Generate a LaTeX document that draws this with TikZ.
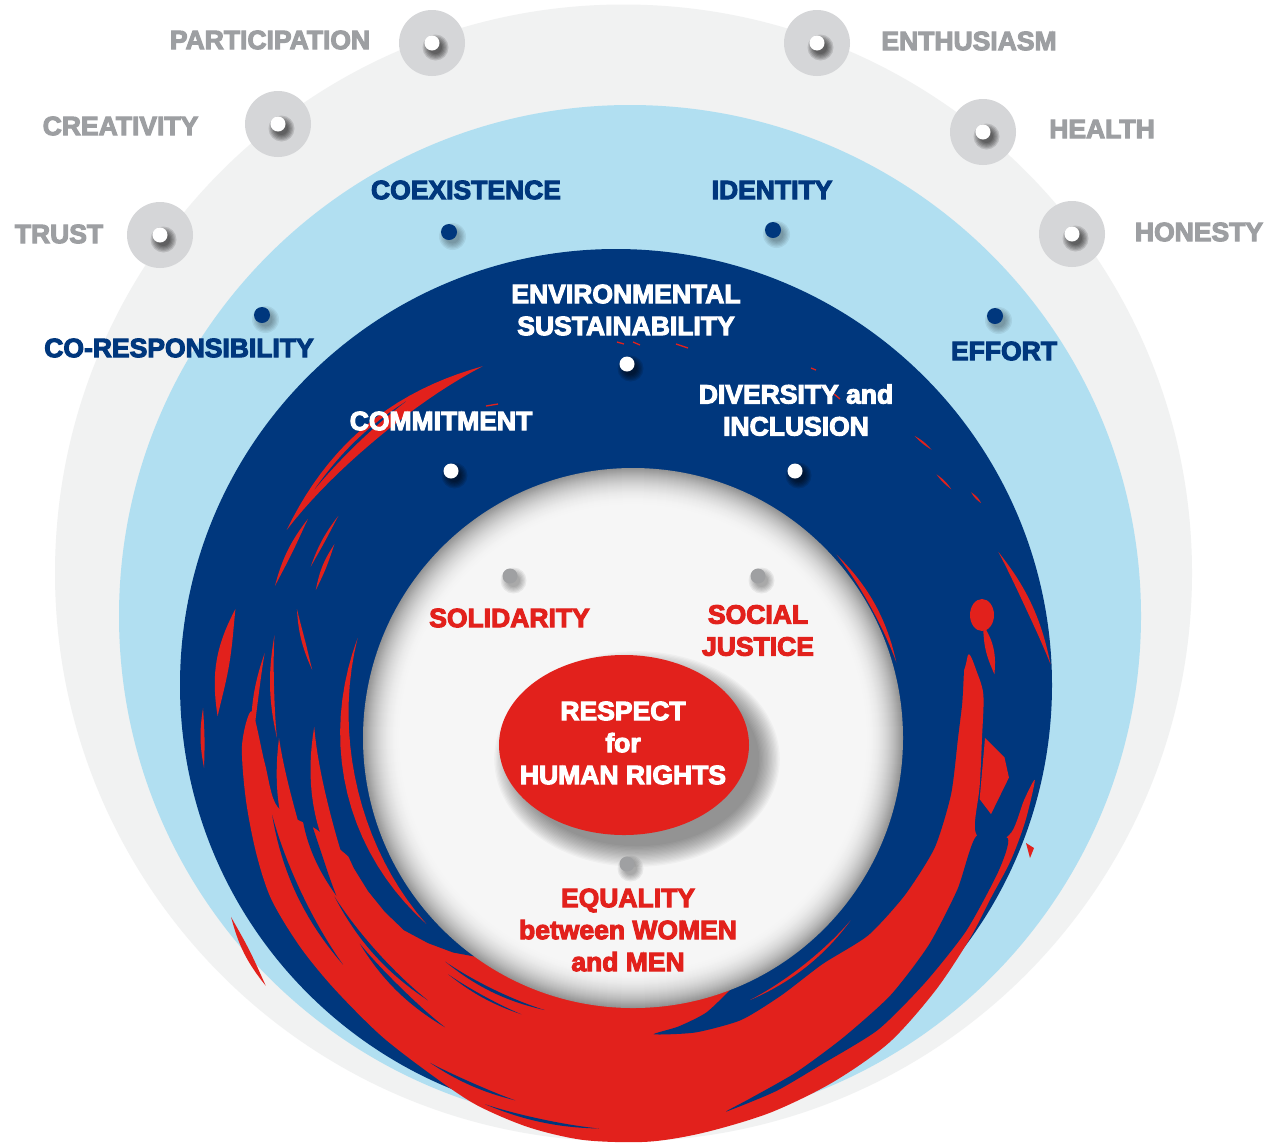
\documentclass[tikz,border=0pt]{standalone}
\usepackage{fontspec}
\setmainfont{Liberation Sans}[BoldFeatures={FakeBold=4}]
\definecolor{bggrey}{HTML}{F1F2F2}
\definecolor{lblue}{HTML}{B1DFF1}
\definecolor{dblue}{HTML}{00377D}
\definecolor{bred}{HTML}{E2211C}
\definecolor{discgrey}{HTML}{D5D6D8}
\definecolor{txtgrey}{HTML}{9D9FA2}
\definecolor{wcirc}{HTML}{F6F6F6}
\definecolor{dotgrey}{HTML}{9FA0A2}
% brush stroke around the centre of the white disc: angle1 angle2 r1 r2 width colour
\newcommand\brsh[6]{\fill[#6] plot[domain=0:2, samples=41, variable=\brv]
  ({#1+min(\brv,2-\brv)*(#2-(#1))}:{#3+(#4-(#3))*min(\brv,2-\brv)+(1-2*(\brv>1))*0.5*#5*sin(180*min(\brv,2-\brv))}) -- cycle;}
% dot with soft shadow: x y radius colour shadow-opacity
\newcommand\sdot[5]{\foreach \kk in {0,...,5}{\fill[black, opacity=#5] ({#1+3.5},{#2+4.5}) circle[radius={(#3-1+1.3*\kk)*1pt}];}
  \fill[#4] (#1,#2) circle[radius=#3pt];}
\begin{document}
\begin{tikzpicture}[x=1pt, y=-1pt,
  lbl/.style={font=\fontsize{26.5}{32}\selectfont\bfseries, inner sep=0pt, align=center}]
\useasboundingbox (0,0) rectangle (1268,1144);
\fill[white] (0,0) rectangle (1268,1144);
% rings
\fill[bggrey] (623.5,573) circle[radius=568.5pt];
\foreach \x/\y in {432/43, 278/124, 160/235, 817/43, 983/132, 1072/234}
  {\fill[discgrey] (\x,\y) circle[radius=33pt];}
\fill[lblue] (630,616) circle[radius=511pt];
\fill[dblue] (616,685) circle[radius=436pt];
% red brush
\begin{scope}[shift={(633,738)}]
\fill[bred] plot[smooth cycle, tension=0.5] coordinates {
 (184:382) (179:391) (171:392) (163:394) (156:396) (148:393) (140:390) (130:390)
 (120:393) (113:399) (105:403) (97:405) (88:404) (80:401) (70:399) (60:398)
 (50:398) (40:394) (31:392) (24:392) (18:397) (12:401) (6:404) (9:396) (14:390)
 (17:372) (15:354) (8:350) (0:349) (-7:353) (-11:350) (-14:346) (-11:335) (-6:300)
 (0:250) (30:250) (60:250) (90:250) (120:250) (140:252) (150:290) (158:310)
 (164:330) (169:362) (176:369)};
% blue band along the white disc, left
\fill[dblue] (126:270) -- (130:280) -- (135:290) -- (140:299) -- (145:303) -- (150:306)
 -- (155:308) -- (160:309) -- (165:311) -- (170:312) -- (170:250) -- (150:250) -- (126:250) -- cycle;
% blue region right, inside
\fill[dblue] plot[smooth cycle, tension=0.4] coordinates {
 (86:297) (78:301) (69:302) (60:297) (50:295) (40:307) (30:314) (20:321) (10:323)
 (0:325) (-6:331) (-11:337) (-15:343) (-22:348) (-30:330) (-30:255) (0:255) (40:255)
 (62:256) (68:268) (75:284) (81:292)};
% outer blue streak, bottom right
\fill[dblue] plot[smooth cycle, tension=0.4] coordinates {
 (15:388) (20:389) (30:385) (40:381) (50:381) (60:377) (68:381) (76:385) (72:379)
 (64:372) (55:366) (45:364) (35:361) (25:358) (16:357)};
% blue streaks in the red
\brsh{142}{168}{368}{369}{5}{dblue}
\brsh{123}{143}{345}{342}{5}{dblue}
\brsh{128}{152}{333}{338}{4}{dblue}
\brsh{152}{172}{336}{337}{9}{dblue}
\brsh{108}{130}{286}{292}{3}{dblue}
\brsh{112}{128}{298}{300}{2}{dblue}
\brsh{108}{122}{381}{383}{3}{dblue}
\brsh{95}{112}{392}{395}{3}{dblue}
\brsh{40}{66}{284}{287}{3}{bred}
% red streaks, left
\brsh{150}{180}{352}{354}{16}{bred}
\brsh{148}{182}{320}{319}{15}{bred}
\brsh{178}{193}{381}{378}{5}{bred}
\brsh{183}{198}{416}{418}{13}{bred}
\brsh{176}{184}{430}{431}{4}{bred}
\brsh{138}{200}{278}{293}{11}{bred}
\brsh{180}{196}{356}{373}{4}{bred}
\brsh{192}{201}{328}{360}{4}{bred}
\brsh{146}{156}{443}{440}{6}{bred}
% upper-left streak
\brsh{211}{248}{404}{401}{17}{bred}
\brsh{218}{236}{404}{406}{3}{dblue}
\brsh{203}{214}{389}{392}{5}{bred}
\brsh{205}{213}{350}{356}{4}{bred}
\brsh{208}{217}{365}{369}{3}{bred}
% right side
\fill[bred] (0:352) -- (3:372) -- (6:378) -- (12:366) -- (10:352) -- cycle;
\brsh{-18}{-10}{368}{367}{8}{bred}
\brsh{-27}{-10}{410}{424}{7}{bred}
\brsh{-42}{-16}{274}{274}{5}{bred}
\brsh{-47}{-44}{413}{415}{2}{bred}
\brsh{-41}{-38}{402}{404}{2}{bred}
\brsh{-36}{-34}{418}{420}{2}{bred}
\end{scope}
\fill[bred] (982,615) ellipse[x radius=12pt, y radius=16pt];
\fill[bred] (1026,843) -- (1034,848) -- (1030,858) -- cycle;
\draw[bred, line width=1.3pt] (617,342) -- (624,344) (633,342) -- (640,345) (676,344) -- (688,348)
  (811,368) -- (816,370) (486,406) -- (498,404) (834,394) -- (840,399);
% white disc with inner shadow
\foreach \i in {0,...,37}{\pgfmathsetmacro\pc{40*(1-\i/38)^2}
  \fill[black!\pc!wcirc] (633,738) circle[radius={(270-\i)*1pt}];}
\fill[wcirc] (633,738) circle[radius=232pt];
% centre ellipse with shadow
\foreach \k in {0,...,16}{\fill[black, opacity=0.026] (637,759) ellipse[x radius={(122+1.3*\k)*1pt}, y radius={(87+1.3*\k)*1pt}];}
\fill[bred] (624,745) ellipse[x radius=125pt, y radius=90pt];
% dots
\foreach \x/\y in {432/43, 278/124, 160/235, 817/43, 983/132, 1072/234}{\sdot{\x}{\y}{7.5}{white}{0.12}}
\foreach \x/\y in {449/232, 773/230, 262/315, 995/316}{\sdot{\x}{\y}{8}{dblue}{0.06}}
\foreach \x/\y in {627/364, 451/471, 795/471}{\sdot{\x}{\y}{7.5}{white}{0.12}}
\foreach \x/\y in {510/576, 758/576, 627/864}{\sdot{\x}{\y}{7.5}{dotgrey}{0.06}}
% labels
\node[lbl, txtgrey] (participation) at (270,40) {PARTICIPATION};
\node[lbl, txtgrey] (creativity) at (120.5,126) {CREATIVITY};
\node[lbl, txtgrey] (trust) at (59,234) {TRUST};
\node[lbl, txtgrey] (enthusiasm) at (969,41) {ENTHUSIASM};
\node[lbl, txtgrey] (health) at (1102,129) {HEALTH};
\node[lbl, txtgrey] (honesty) at (1199,232) {HONESTY};
\node[lbl, dblue] (coexistence) at (466,190) {COEXISTENCE};
\node[lbl, dblue] (identity) at (772,190) {IDENTITY};
\node[lbl, dblue] (coresp) at (179,348) {CO-RESPONSIBILITY};
\node[lbl, dblue] (effort) at (1004,351) {EFFORT};
\node[lbl, white] (environ) at (626,310) {ENVIRONMENTAL\\SUSTAINABILITY};
\node[lbl, white] (commitment) at (441,421) {COMMITMENT};
\node[lbl, white] (diversity) at (796,410) {DIVERSITY and\\INCLUSION};
\node[lbl, bred] (solidarity) at (509.5,618) {SOLIDARITY};
\node[lbl, bred] (social) at (758,630.5) {SOCIAL\\JUSTICE};
\node[lbl, white] (respect) at (623,743) {RESPECT\\for\\HUMAN RIGHTS};
\node[lbl, bred] (equality) at (628,930) {EQUALITY\\between WOMEN\\and MEN};
\end{tikzpicture}
\end{document}
